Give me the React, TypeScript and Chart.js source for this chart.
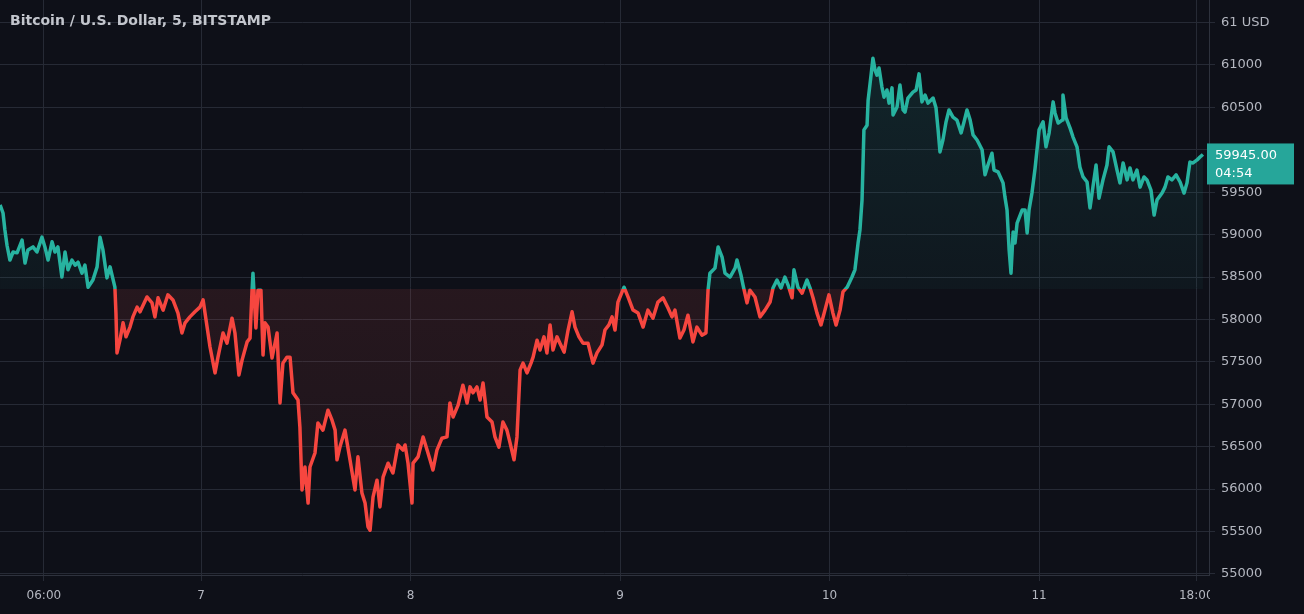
import React, { useEffect, useRef } from 'react';
import { Chart, registerables } from 'chart.js';

Chart.register(...registerables);

// ---- Data (time = fractional day of month, price in USD) ----
const day6Time = [6.041, 6.055, 6.064, 6.074, 6.088, 6.103, 6.122, 6.146, 6.160, 6.174, 6.198, 6.217, 6.241, 6.255, 6.270, 6.289, 6.303, 6.317, 6.336, 6.351, 6.365, 6.384, 6.399, 6.413, 6.432, 6.446, 6.461, 6.484, 6.504, 6.518, 6.532, 6.551, 6.566, 6.589, 6.594, 6.599, 6.613, 6.628, 6.642, 6.661, 6.675, 6.695, 6.709, 6.742, 6.766, 6.780, 6.795, 6.819, 6.842, 6.866, 6.890, 6.909, 6.924, 6.947, 6.971, 6.995];
const day6Price = [59350, 59255, 59055, 58875, 58700, 58795, 58785, 58935, 58665, 58820, 58855, 58795, 58970, 58855, 58700, 58915, 58795, 58855, 58500, 58795, 58585, 58700, 58640, 58675, 58545, 58640, 58380, 58465, 58620, 58970, 58820, 58490, 58620, 58380, 58075, 57605, 57755, 57960, 57795, 57910, 58030, 58145, 58090, 58265, 58195, 58030, 58255, 58110, 58290, 58230, 58075, 57840, 57960, 58030, 58090, 58145];

const day7Time = [7.010, 7.029, 7.043, 7.067, 7.081, 7.105, 7.124, 7.148, 7.162, 7.181, 7.196, 7.220, 7.234, 7.243, 7.248, 7.262, 7.272, 7.286, 7.296, 7.305, 7.320, 7.339, 7.363, 7.377, 7.391, 7.410, 7.425, 7.439, 7.463, 7.472, 7.482, 7.496, 7.511, 7.520, 7.544, 7.558, 7.582, 7.606, 7.625, 7.640, 7.649, 7.663, 7.687, 7.711, 7.735, 7.749, 7.768, 7.783, 7.797, 7.807, 7.821, 7.840, 7.854, 7.869, 7.893, 7.916, 7.940, 7.964, 7.974, 7.988];
const day7Price = [58230, 57910, 57675, 57370, 57555, 57840, 57720, 58015, 57840, 57345, 57520, 57735, 57780, 58310, 58545, 57900, 58345, 58345, 57580, 57960, 57910, 57545, 57840, 57015, 57485, 57555, 57555, 57135, 57050, 56730, 55990, 56260, 55835, 56260, 56425, 56780, 56695, 56930, 56815, 56695, 56345, 56495, 56695, 56345, 55990, 56380, 55955, 55835, 55555, 55515, 55905, 56105, 55790, 56140, 56305, 56190, 56520, 56460, 56520, 56305];

const day8Time = [8.007, 8.012, 8.036, 8.060, 8.079, 8.093, 8.107, 8.126, 8.150, 8.174, 8.188, 8.203, 8.227, 8.250, 8.270, 8.284, 8.298, 8.317, 8.332, 8.346, 8.365, 8.389, 8.403, 8.422, 8.441, 8.460, 8.475, 8.494, 8.508, 8.523, 8.537, 8.556, 8.575, 8.585, 8.604, 8.618, 8.637, 8.651, 8.666, 8.680, 8.699, 8.713, 8.733, 8.752, 8.771, 8.785, 8.804, 8.823, 8.847, 8.871, 8.890, 8.914, 8.928, 8.947, 8.962, 8.976, 8.990];
const day8Price = [55835, 56305, 56380, 56615, 56460, 56345, 56225, 56460, 56600, 56615, 57015, 56850, 56990, 57225, 57015, 57205, 57135, 57205, 57050, 57250, 56850, 56790, 56615, 56495, 56790, 56695, 56545, 56345, 56615, 57405, 57485, 57370, 57485, 57555, 57755, 57640, 57795, 57605, 57935, 57640, 57795, 57720, 57615, 57875, 58090, 57910, 57795, 57720, 57720, 57485, 57605, 57700, 57875, 57935, 58030, 57875, 58205];

const day9Time = [9.019, 9.038, 9.062, 9.086, 9.110, 9.133, 9.157, 9.181, 9.205, 9.229, 9.248, 9.262, 9.286, 9.305, 9.324, 9.348, 9.367, 9.391, 9.410, 9.420, 9.429, 9.453, 9.468, 9.487, 9.501, 9.525, 9.549, 9.558, 9.577, 9.587, 9.606, 9.620, 9.644, 9.668, 9.692, 9.716, 9.730, 9.749, 9.768, 9.787, 9.802, 9.821, 9.830, 9.849, 9.869, 9.892, 9.907, 9.921, 9.940, 9.959, 9.978, 9.997];
const day9Price = [58380, 58265, 58110, 58075, 57910, 58110, 58015, 58205, 58255, 58135, 58030, 58110, 57780, 57875, 58050, 57735, 57910, 57815, 57840, 58345, 58545, 58605, 58855, 58735, 58545, 58500, 58605, 58700, 58525, 58405, 58195, 58345, 58265, 58030, 58110, 58205, 58370, 58465, 58370, 58500, 58405, 58255, 58585, 58380, 58310, 58465, 58370, 58255, 58075, 57935, 58110, 58290];

const day10Time = [10.016, 10.031, 10.050, 10.064, 10.084, 10.107, 10.121, 10.136, 10.145, 10.155, 10.164, 10.179, 10.184, 10.198, 10.207, 10.217, 10.226, 10.236, 10.250, 10.260, 10.274, 10.284, 10.298, 10.303, 10.322, 10.336, 10.351, 10.360, 10.374, 10.398, 10.413, 10.427, 10.441, 10.456, 10.470, 10.494, 10.508, 10.518, 10.527, 10.541, 10.556, 10.570, 10.589, 10.608, 10.628, 10.642, 10.656, 10.671, 10.685, 10.704, 10.728, 10.742, 10.756, 10.775, 10.785, 10.804, 10.828, 10.837, 10.847, 10.857, 10.866, 10.876, 10.885, 10.895, 10.919, 10.933, 10.943, 10.952, 10.966, 10.981];
const day10Price = [58075, 57935, 58110, 58325, 58380, 58500, 58585, 58900, 59055, 59410, 60235, 60290, 60585, 60880, 61080, 60940, 60880, 60965, 60740, 60620, 60705, 60550, 60730, 60410, 60505, 60765, 60470, 60445, 60610, 60680, 60705, 60895, 60565, 60645, 60550, 60610, 60495, 60235, 59975, 60115, 60330, 60470, 60385, 60350, 60200, 60330, 60470, 60350, 60175, 60115, 60000, 59705, 59820, 59960, 59760, 59740, 59610, 59445, 59290, 58820, 58545, 59030, 58900, 59135, 59290, 59290, 59020, 59290, 59490, 59785];

const day11Time = [11.000, 11.019, 11.033, 11.048, 11.067, 11.076, 11.091, 11.110, 11.114, 11.129, 11.148, 11.162, 11.181, 11.195, 11.210, 11.229, 11.243, 11.257, 11.272, 11.286, 11.305, 11.324, 11.334, 11.353, 11.372, 11.386, 11.401, 11.420, 11.434, 11.448, 11.467, 11.482, 11.501, 11.515, 11.534, 11.549, 11.563, 11.587, 11.601, 11.615, 11.634, 11.654, 11.673, 11.692, 11.706, 11.720, 11.735, 11.754, 11.768, 11.782];
const day11Price = [60235, 60330, 60035, 60200, 60565, 60435, 60315, 60350, 60645, 60375, 60255, 60150, 60035, 59795, 59680, 59620, 59315, 59560, 59820, 59430, 59645, 59820, 60035, 59975, 59760, 59610, 59845, 59645, 59785, 59645, 59760, 59560, 59680, 59645, 59525, 59230, 59410, 59490, 59560, 59680, 59645, 59705, 59620, 59490, 59610, 59855, 59845, 59880, 59915, 59945];

const xTickValues = [6.25, 7, 8, 9, 10, 11, 11.75];
const xTickLabels = ['06:00', '7', '8', '9', '10', '11', '18:00'];
const yTickValues = [55000, 55500, 56000, 56500, 57000, 57500, 58000, 58500, 59000, 59500, 60000, 60500, 61000, 61500];
const yTopLabel = '61 USD';

const BASELINE = 58360;
const Y_MIN = 54987;
const Y_MAX = 61766;
const X_MIN = 6.0406;
const X_MAX = 11.811;
const TITLE = 'Bitcoin / U.S. Dollar, 5, BITSTAMP';
const LAST_PRICE_TEXT = '59945.00';
const COUNTDOWN_TEXT = '04:54';

// ---- Styles ----
const BG = '#0e1018';
const GRID = '#262a35';
const TEXT = '#b4b7c0';
const GREEN = '#27b3a0';
const RED = '#f6463f';
const FONT = '"DejaVu Sans", Verdana, sans-serif';

const allTimes = [...day6Time, ...day7Time, ...day8Time, ...day9Time, ...day10Time, ...day11Time];
const allPrices = [...day6Price, ...day7Price, ...day8Price, ...day9Price, ...day10Price, ...day11Price];

function baselineFraction(chart: any) {
  const area = chart.chartArea;
  const yb = chart.scales.y.getPixelForValue(BASELINE);
  return { area, f: Math.min(1, Math.max(0, (yb - area.top) / (area.bottom - area.top))) };
}

const bgPlugin = {
  id: 'bg',
  beforeDraw(chart: any) {
    const ctx = chart.ctx;
    ctx.save();
    ctx.fillStyle = BG;
    ctx.fillRect(0, 0, chart.width, chart.height);
    ctx.restore();
  },
};

const overlayPlugin = {
  id: 'overlay',
  afterDraw(chart: any) {
    const ctx = chart.ctx;
    const area = chart.chartArea;
    ctx.save();
    // clip region under price axis (bottom-right corner)
    ctx.fillStyle = BG;
    ctx.fillRect(area.right + 1, area.bottom + 3, chart.width - area.right, chart.height - area.bottom);
    // title
    ctx.fillStyle = '#c3c6cd';
    ctx.font = `bold 14px ${FONT}`;
    ctx.textBaseline = 'middle';
    ctx.textAlign = 'left';
    ctx.fillText(TITLE, 10, 21);
    // last price label
    const lastPrice = allPrices[allPrices.length - 1];
    const y = chart.scales.y.getPixelForValue(lastPrice);
    ctx.fillStyle = '#26a69a';
    ctx.fillRect(area.right - 2, y - 11, 87, 41);
    ctx.fillStyle = '#ffffff';
    ctx.font = `13px ${FONT}`;
    ctx.fillText(LAST_PRICE_TEXT, area.right + 6, y + 1);
    ctx.fillText(COUNTDOWN_TEXT, area.right + 6, y + 19);
    ctx.restore();
  },
};

export default function App() {
  const ref = useRef<HTMLCanvasElement>(null);
  useEffect(() => {
    document.body.style.margin = '0';
    document.body.style.background = BG;
    const canvas = ref.current!;
    const chart = new Chart(canvas, {
      type: 'line',
      data: {
        datasets: [
          {
            data: allTimes.map((t, i) => ({ x: t, y: allPrices[i] })),
            borderWidth: 3.5,
            pointRadius: 0,
            tension: 0,
            borderJoinStyle: 'round',
            fill: { value: BASELINE },
            borderColor: (c: any) => {
              const chart = c.chart;
              if (!chart.chartArea) return GREEN;
              const { area, f } = baselineFraction(chart);
              const g = chart.ctx.createLinearGradient(0, area.top, 0, area.bottom);
              g.addColorStop(0, GREEN);
              g.addColorStop(f, GREEN);
              g.addColorStop(f, RED);
              g.addColorStop(1, RED);
              return g;
            },
            backgroundColor: (c: any) => {
              const chart = c.chart;
              if (!chart.chartArea) return 'rgba(0,0,0,0)';
              const { area, f } = baselineFraction(chart);
              const g = chart.ctx.createLinearGradient(0, area.top, 0, area.bottom);
              g.addColorStop(0, 'rgba(38,166,154,0.16)');
              g.addColorStop(f, 'rgba(38,166,154,0.05)');
              g.addColorStop(f, 'rgba(239,83,80,0.11)');
              g.addColorStop(1, 'rgba(239,83,80,0.05)');
              return g;
            },
          } as any,
        ],
      },
      options: {
        animation: false,
        responsive: true,
        maintainAspectRatio: false,
        layout: { padding: 0 },
        plugins: { legend: { display: false }, tooltip: { enabled: false } },
        scales: {
          x: {
            type: 'linear',
            min: X_MIN,
            max: X_MAX,
            afterBuildTicks: (axis: any) => {
              axis.ticks = xTickValues.map((v) => ({ value: v }));
            },
            afterFit: (axis: any) => {
              axis.height = 39;
              axis.paddingLeft = 0;
              axis.paddingRight = 0;
            },
            ticks: {
              autoSkip: false,
              maxRotation: 0,
              color: TEXT,
              font: { family: FONT, size: 12 },
              padding: 8,
              callback: (v: any) => {
                const i = xTickValues.indexOf(Number(v));
                return i >= 0 ? xTickLabels[i] : '';
              },
            },
            grid: { color: GRID, tickColor: GRID, tickLength: 6, lineWidth: 1 },
            border: { display: true, color: '#2e323d' },
          },
          y: {
            position: 'right',
            min: Y_MIN,
            max: Y_MAX,
            afterBuildTicks: (axis: any) => {
              axis.ticks = yTickValues.map((v) => ({ value: v }));
            },
            afterFit: (axis: any) => {
              axis.width = 95;
              axis.paddingTop = 0;
              axis.paddingBottom = 0;
            },
            ticks: {
              autoSkip: false,
              color: TEXT,
              font: { family: FONT, size: 13 },
              padding: 6,
              callback: (v: any) => (Number(v) === 61500 ? yTopLabel : String(v)),
            },
            grid: { color: GRID, tickColor: GRID, tickLength: 6, lineWidth: 1 },
            border: { display: true, color: '#2e323d' },
          },
        },
      },
      plugins: [bgPlugin, overlayPlugin],
    });
    return () => chart.destroy();
  }, []);
  return (
    <div style={{ position: 'relative', width: 1304, height: 614 }}>
      <canvas ref={ref} />
    </div>
  );
}
